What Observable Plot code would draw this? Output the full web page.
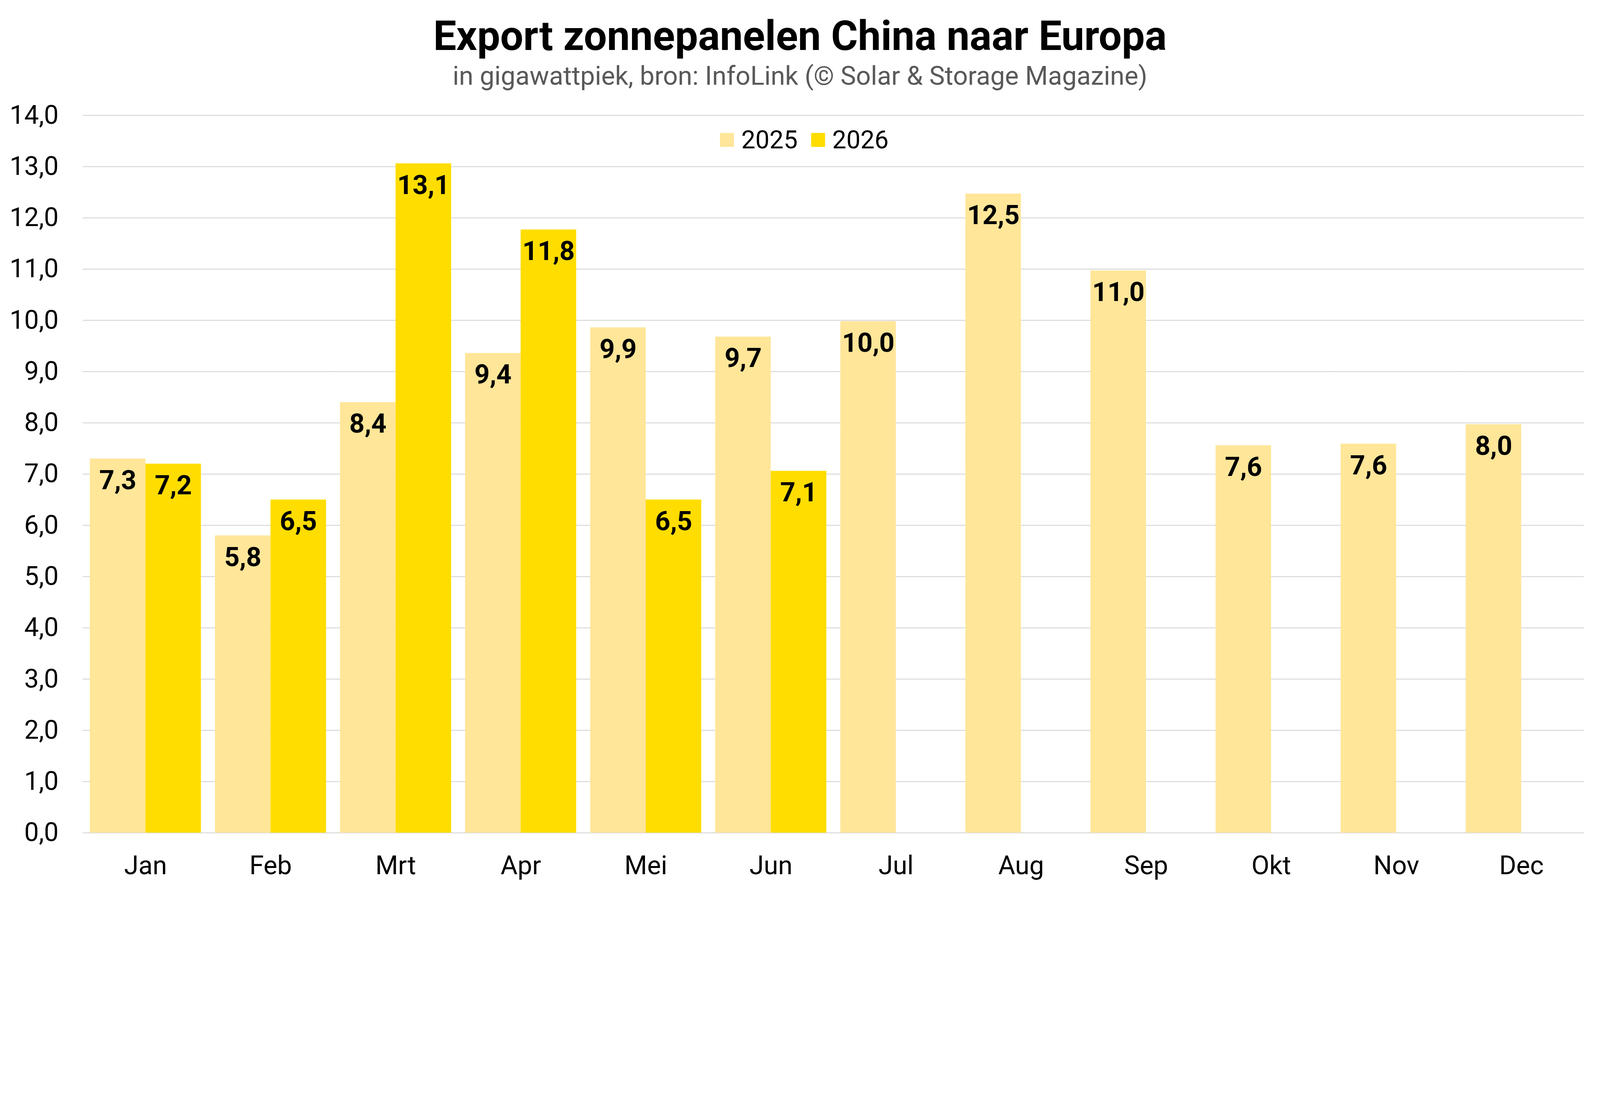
<!DOCTYPE html>
<html>
<head>
<meta charset="utf-8">
<script src="https://cdn.jsdelivr.net/npm/d3@7"></script>
<script src="https://cdn.jsdelivr.net/npm/@observablehq/plot@0.6"></script>
<style>
  html, body { margin: 0; padding: 0; background: #fff; overflow: hidden; }
  #wrap { position: relative; overflow: hidden; }
  #page { position: absolute; left: 0; top: 0; width: 5040px; height: 2807px; background: #fff; font-family: Roboto, sans-serif; overflow: hidden; transform-origin: 0 0; }
  #title { position: absolute; left: 0; width: 5040px; top: 49px; text-align: center; font-size: 129px; line-height: 1; font-weight: 700; color: #000; }
  #subtitle { position: absolute; left: 0; width: 5040px; top: 198px; text-align: center; font-size: 82px; line-height: 1; color: #595959; }
  #chart { position: absolute; left: 0; top: 300px; }
  #legend { position: absolute; left: 2268px; top: 401px; height: 80px; display: flex; align-items: center; font-size: 79px; color: #000; }
  #legend .sw { width: 44px; height: 44px; margin-right: 23px; }
  #legend .it { display: flex; align-items: center; margin-right: 42px; }
</style>
</head>
<body>
<div id="wrap">
<div id="page">
  <div id="title"></div>
  <div id="subtitle"></div>
  <div id="chart"></div>
  <div id="legend"></div>
</div>
</div>
<script>
const titleText = "Export zonnepanelen China naar Europa";
const subtitleText = "in gigawattpiek, bron: InfoLink (© Solar & Storage Magazine)";
const months = ["Jan","Feb","Mrt","Apr","Mei","Jun","Jul","Aug","Sep","Okt","Nov","Dec"];
const years = ["2025","2026"];
const values2025 = [7.3, 5.8, 8.4, 9.36, 9.86, 9.68, 9.98, 12.47, 10.97, 7.56, 7.59, 7.97];
const values2026 = [7.2, 6.5, 13.06, 11.77, 6.5, 7.06];
const yTicks = [0,1,2,3,4,5,6,7,8,9,10,11,12,13,14];
const colors = ["#FFE699", "#FFDD00"];

const fmt = v => v.toFixed(1).replace(".", ",");

const data = [];
months.forEach((m, i) => { data.push({month: m, year: "2025", value: values2025[i]}); });
values2026.forEach((v, i) => { data.push({month: months[i], year: "2026", value: v}); });

document.getElementById("title").textContent = titleText;
document.getElementById("subtitle").textContent = subtitleText;

const chart = Plot.plot({
  width: 5040,
  height: 2507,
  marginLeft: 261,
  marginRight: 51,
  marginTop: 63,
  marginBottom: 183,
  style: {fontFamily: "Roboto, sans-serif", fontSize: "82px", color: "#000", background: "transparent", overflow: "visible"},
  fx: {domain: months, paddingInner: 0.112, paddingOuter: 0.056, label: null, axis: "bottom", tickSize: 0, tickPadding: 72, fontSize: 84},
  x: {domain: years, padding: 0, axis: null},
  y: {domain: [0, 14], ticks: yTicks, tickFormat: fmt, tickSize: 0, tickPadding: 99, label: null},
  color: {domain: years, range: colors},
  marks: [
    Plot.ruleY(yTicks, {stroke: "#d9d9d9", strokeWidth: 3, insetLeft: -22.5, insetRight: -22.5}),
    Plot.barY(data, {fx: "month", x: "year", y: "value", fill: "year"}),
    Plot.text(data, {fx: "month", x: "year", y: "value", text: d => fmt(d.value), dy: 69, fontWeight: "bold", fontSize: 84, fill: "#000"})
  ]
});
document.getElementById("chart").appendChild(chart);

const legend = document.getElementById("legend");
years.forEach((y, i) => {
  const it = document.createElement("div");
  it.className = "it";
  const sw = document.createElement("div");
  sw.className = "sw";
  sw.style.background = colors[i];
  const t = document.createElement("span");
  t.textContent = y;
  it.appendChild(sw);
  it.appendChild(t);
  legend.appendChild(it);
});

function fit() {
  const s = Math.min(window.innerWidth / 5040, window.innerHeight / 2807);
  const page = document.getElementById("page");
  const wrap = document.getElementById("wrap");
  page.style.transform = "scale(" + s + ")";
  wrap.style.width = (5040 * s) + "px";
  wrap.style.height = (2807 * s) + "px";
}
fit();
window.addEventListener("resize", fit);
</script>
</body>
</html>
